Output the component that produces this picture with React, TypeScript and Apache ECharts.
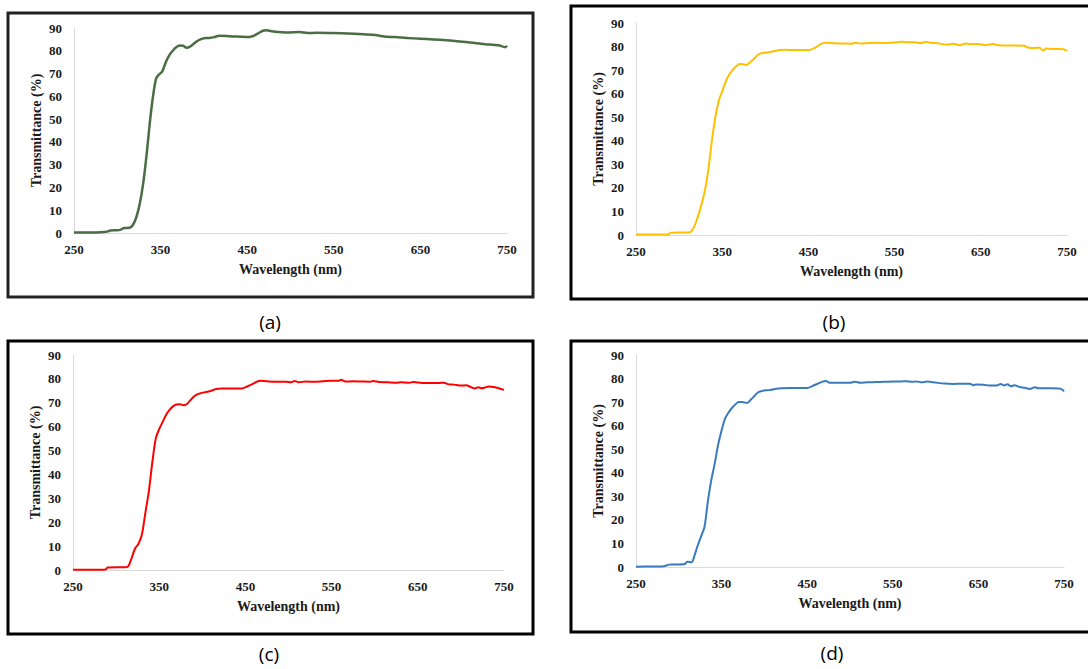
import React, { useEffect, useRef } from "react";
import * as echarts from "echarts";

const xTicks = [250, 350, 450, 550, 650, 750];
const yTicks = [0, 10, 20, 30, 40, 50, 60, 70, 80, 90];

const wlA = [250,260,270,280,288,292,300,304,308,314,318,322,326,330,334,338,342,345,348,352,356,360,364,368,372,376,380,384,388,392,396,400,406,412,418,426,434,442,450,456,462,468,472,478,486,494,502,510,520,530,546,566,586,598,608,620,635,650,665,680,695,710,725,740,748,750];
const tA = [0.2,0.2,0.2,0.3,0.6,1.1,1.2,1.5,2.2,2.3,3.5,7,13,22,35,50,62,68,69.5,71,75,78,80,81.5,82.3,82.2,81.3,81.8,83,84.2,85,85.5,85.6,86,86.6,86.5,86.3,86.2,86,86.4,87.5,88.8,89,88.6,88.2,88,88.1,88.2,87.8,87.9,87.8,87.6,87.2,86.9,86.3,86,85.6,85.3,85,84.6,84.1,83.5,82.9,82.4,81.6,82.2];

const wlB = [250,260,270,280,288,290,300,310,314,318,322,326,330,334,338,342,346,350,354,358,362,366,370,374,378,382,386,390,394,398,404,410,416,424,432,440,448,452,458,464,470,480,490,500,505,510,520,530,540,550,558,566,574,580,586,592,600,610,618,626,632,638,646,656,664,670,680,690,700,706,712,718,722,726,732,740,746,750];
const tB = [0.2,0.2,0.2,0.2,0.2,1,1.1,1.1,1.5,4,8,13,19,28,40,50,57,61,65,68,70,71.5,72.6,72.5,72.2,73.2,74.5,76,77,77.3,77.6,78,78.5,78.6,78.5,78.5,78.5,78.6,79.5,81,81.6,81.4,81.3,81.2,81.6,81.3,81.5,81.6,81.5,81.7,82,81.8,81.8,81.5,82,81.6,81.4,80.8,81.2,80.6,81.3,81,81.1,80.6,81.1,80.6,80.4,80.4,80.3,79.5,79.4,79.5,78.3,79.2,79,79,78.9,78.2];

const wlC = [250,260,270,280,288,290,300,310,314,318,322,326,330,334,338,342,346,350,354,358,362,366,370,374,378,382,386,390,394,398,404,410,416,422,430,440,446,452,458,462,467,475,487,497,503,507,512,520,530,540,550,558,561,566,575,585,595,598,605,615,625,630,640,645,655,665,675,680,686,692,700,706,712,716,720,724,728,732,738,744,750];
const tC = [0.1,0.1,0.1,0.1,0.2,1,1.1,1.1,1.5,5,9,11,15,24,33,45,55,59,62,65,67,68.5,69.3,69.4,69,69.4,71,72.5,73.5,74,74.5,75,75.8,76,76,76,76,76.8,77.8,78.6,79.2,79,78.8,78.8,78.6,79.1,78.6,78.9,78.8,79,79.2,79.2,79.6,78.9,79,78.9,78.8,79.1,78.7,78.6,78.4,78.6,78.4,78.7,78.3,78.3,78.3,78.4,77.7,77.6,77.2,77.3,76.5,76,76.5,76.1,76.4,76.8,76.6,76.1,75.4];

const wlD = [250,260,270,280,289,292,300,307,310,315,318,322,326,330,334,338,342,346,350,354,358,362,366,370,374,380,384,388,392,396,402,408,414,420,430,440,450,456,462,468,472,476,482,490,500,506,512,520,530,540,550,560,566,572,578,584,590,600,610,620,630,640,644,648,656,664,672,676,680,684,688,692,698,704,710,716,720,728,736,744,748,750];
const tD = [0.1,0.2,0.2,0.2,1,1.1,1.1,1.3,2.2,2,4.5,9,13,17,28,37,44,52,58,63,65.5,67.5,69,70,70,69.6,71,72.5,74,74.6,75,75.2,75.7,75.9,76,76,76,76.8,77.8,78.7,79,78.2,78.2,78.2,78.2,78.6,78.2,78.4,78.5,78.6,78.7,78.8,78.9,78.6,78.8,78.4,78.7,78.3,77.9,77.7,77.8,77.8,77.2,77.5,77.4,77,77.1,77.7,77.1,77.6,76.7,77.2,76.4,76.1,75.6,76.3,75.9,75.9,75.9,75.8,75.3,74.6];

const panelLabels = ["(a)", "(b)", "(c)", "(d)"];
const xTitle = "Wavelength (nm)";
const yTitle = "Transmittance (%)";

export default function App() {
  const ref = useRef<HTMLDivElement>(null);
  useEffect(() => {
    if (!ref.current) return;
    const chart = echarts.init(ref.current, null, { renderer: "svg" });
    const serif = "'Liberation Serif', 'Times New Roman', serif";
    const grids = [
      { left: 74, top: 28, width: 433, height: 205 },
      { left: 636, top: 23, width: 431, height: 212 },
      { left: 73, top: 355, width: 431, height: 215 },
      { left: 636, top: 355, width: 428, height: 212 },
    ];
    const colors = ["#4a6d43", "#ffc000", "#ff0000", "#3a7bbf"];
    const widths = [2.5, 2, 2, 2];
    const datasets = [
      wlA.map((w, i) => [w, tA[i]]),
      wlB.map((w, i) => [w, tB[i]]),
      wlC.map((w, i) => [w, tC[i]]),
      wlD.map((w, i) => [w, tD[i]]),
    ];
    const labelColor = "#1a1a1a";
    const xAxis = grids.map((_, i) => ({
      type: "value",
      gridIndex: i,
      min: xTicks[0],
      max: xTicks[xTicks.length - 1],
      interval: 100,
      name: xTitle,
      nameLocation: "middle",
      nameGap: 29,
      nameTextStyle: { fontFamily: serif, fontWeight: "bold", fontSize: 14, color: labelColor },
      axisLine: { show: true, lineStyle: { color: "#d9d9d9", width: 1 } },
      axisTick: { show: false },
      splitLine: { show: false },
      axisLabel: { fontFamily: serif, fontWeight: "bold", fontSize: 13, color: labelColor, margin: 10 },
    }));
    const yAxis = grids.map((_, i) => ({
      type: "value",
      gridIndex: i,
      min: yTicks[0],
      max: yTicks[yTicks.length - 1],
      interval: 10,
      name: yTitle,
      nameLocation: "middle",
      nameGap: 31,
      nameTextStyle: { fontFamily: serif, fontWeight: "bold", fontSize: 14, color: labelColor },
      axisLine: { show: true, lineStyle: { color: "#d9d9d9", width: 1 } },
      axisTick: { show: false },
      splitLine: { show: false },
      axisLabel: { fontFamily: serif, fontWeight: "bold", fontSize: 13, color: labelColor, margin: 12 },
    }));
    const series = datasets.map((d, i) => ({
      type: "line",
      xAxisIndex: i,
      yAxisIndex: i,
      data: d,
      showSymbol: false,
      smooth: 0.3,
      lineStyle: { color: colors[i], width: widths[i] },
      z: 3,
    }));
    const boxes = [
      { x: 8, y: 13, w: 525, h: 284 },
      { x: 571, y: 6, w: 530, h: 293 },
      { x: 8, y: 341, w: 525, h: 293 },
      { x: 571, y: 341, w: 530, h: 291 },
    ];
    const labelPos = [
      [270, 322],
      [834, 322],
      [269, 654],
      [832, 653],
    ];
    const graphic: any[] = [];
    boxes.forEach((b, i) => {
      graphic.push({
        type: "rect",
        shape: { x: b.x, y: b.y, width: b.w, height: b.h },
        style: { fill: "none", stroke: i === 0 ? "#222" : "#000", lineWidth: 3 },
        silent: true,
      });
    });
    panelLabels.forEach((t, i) => {
      graphic.push({
        type: "text",
        x: labelPos[i][0],
        y: labelPos[i][1],
        style: {
          text: t,
          fontFamily: "'Open Sans', 'Liberation Sans', sans-serif",
          fontSize: 19,
          fill: "#000",
          align: "center",
          verticalAlign: "middle",
        },
        silent: true,
      });
    });
    chart.setOption({
      animation: false,
      backgroundColor: "#ffffff",
      grid: grids,
      xAxis,
      yAxis,
      series,
      graphic,
    });
    return () => chart.dispose();
  }, []);
  return (
    <div
      ref={ref}
      style={{ position: "fixed", left: 0, top: 0, width: 1088, height: 669, background: "#fff" }}
    />
  );
}
